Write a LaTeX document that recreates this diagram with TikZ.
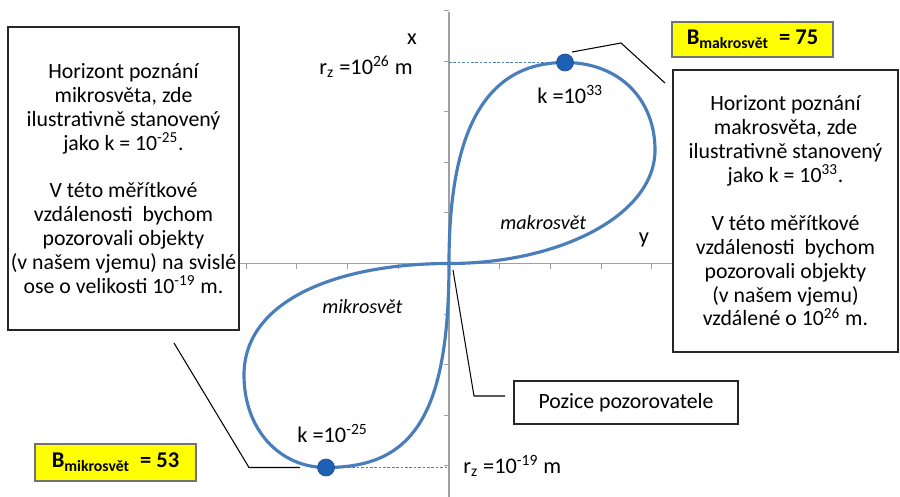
\documentclass[tikz,border=0pt]{standalone}
\usepackage{fontspec}
\setmainfont{Carlito}
\definecolor{curveblue}{RGB}{74,126,187}
\definecolor{dotblue}{RGB}{30,96,182}
\definecolor{dotedge}{RGB}{40,78,140}
\definecolor{dashblue}{RGB}{79,129,189}
\definecolor{axisgray}{RGB}{160,160,160}
\definecolor{hlyellow}{RGB}{255,255,0}
\begin{document}
\begin{tikzpicture}[x=0.02cm,y=-0.02cm,
  txtbox/.style={draw=black!85, line width=0.8pt, align=center, inner sep=0pt, font=\fontsize{12.4}{13.6}\selectfont},
  ybox/.style={draw=black!55, fill=hlyellow, line width=0.6pt, inner sep=0pt, font=\bfseries\fontsize{12.8}{14}\selectfont},
  lbl/.style={inner sep=0pt, font=\fontsize{12.7}{14}\selectfont},
  ital/.style={inner sep=0pt, font=\itshape\fontsize{11.5}{13}\selectfont},
  axisline/.style={draw=axisgray, line width=0.6pt},
  callout/.style={draw=black, line width=0.6pt},
  rzline/.style={draw=dashblue, line width=0.5pt, dash pattern=on 1.5pt off 1pt},
  lobe/.style={draw=curveblue, line width=1.8pt},
  dotnode/.style={circle, fill=dotblue, draw=dotedge, line width=0.4pt, minimum size=0.34cm, inner sep=0pt}
]
\useasboundingbox (0,0) rectangle (900,497);

% axes
\coordinate (O) at (449,263.5);
\coordinate (vtop) at (449,12);
\coordinate (vbot) at (449,497);
\coordinate (hleft) at (239,263.5);
\coordinate (hright) at (673,263.5);
\draw[axisline] (vtop) -- (vbot);
\draw[axisline] (hleft) -- (hright);
\foreach \k in {-5,...,-1,1,2,3,4}
  \draw[axisline] (444,263.5+50.6*\k) -- (449,263.5+50.6*\k);
\foreach \k in {-4,...,-1,1,2,3,4}
  \draw[axisline] (449+50.7*\k,263.5) -- (449+50.7*\k,268.5);

% dashed r_z guides
\coordinate (rzt) at (449,62.5);
\coordinate (rzb) at (449,467.5);
\coordinate (ptop) at (565,62.5);
\coordinate (pbot) at (326,467.5);
\draw[rzline] (rzt) -- (ptop);
\draw[rzline] (pbot) -- (rzb);

% lobes
\draw[lobe] (O) .. controls (449,140) and (480,62.5) .. (ptop)
  .. controls (620,62.5) and (655,100) .. (655,150)
  .. controls (655,215) and (560,263.5) .. (O);
\draw[lobe] (O) .. controls (338,263.5) and (244,300) .. (244,375)
  .. controls (244,430) and (280,467.5) .. (pbot)
  .. controls (410,467.5) and (449,420) .. (O);

% dots
\node[dotnode] (dtop) at (ptop) {};
\node[dotnode] (dbot) at (pbot) {};

% text boxes
\node[txtbox, minimum width=4.62cm, minimum height=6.06cm] (lbox) at (123.5,178.5)
 {Horizont poznání\\mikrosvěta, zde\\ilustrativně stanovený\\jako k = 10\textsuperscript{-25}.\\[13.6pt]
  V této měřítkové\\vzdálenosti~ bychom\\pozorovali objekty\\(v našem vjemu) na svislé\\ose o velikosti 10\textsuperscript{-19} m.};
\node[txtbox, minimum width=4.5cm, minimum height=5.64cm] (rbox) at (785.5,211)
 {Horizont poznání\\makrosvěta, zde\\ilustrativně stanovený\\jako k = 10\textsuperscript{33}.\\[13.6pt]
  V této měřítkové\\vzdálenosti~ bychom\\pozorovali objekty\\(v našem vjemu)\\vzdálené o 10\textsuperscript{26} m.};
\node[txtbox, minimum width=4.48cm, minimum height=0.86cm] (pbox) at (626,402.5) {Pozice pozorovatele};

% yellow boxes
\node[ybox, minimum width=3.22cm, minimum height=0.70cm] (bmak) at (752.5,39.5)
 {B\textsubscript{makrosvět}~~= 75};
\node[ybox, minimum width=3.22cm, minimum height=0.74cm] (bmik) at (115.5,462.5)
 {B\textsubscript{mikrosvět}~~= 53};

% callouts
\coordinate (ca1) at (572,52);
\coordinate (ca2) at (621,43);
\coordinate (ca3) at (665,83);
\draw[callout] (ca1) -- (ca2) -- (ca3);
\coordinate (cb1) at (174,343);
\coordinate (cb2) at (249,467.5);
\coordinate (cb3) at (300,467.5);
\draw[callout] (cb1) -- (cb2) -- (cb3);
\coordinate (cc1) at (453,270);
\coordinate (cc2) at (474,396);
\coordinate (cc3) at (505,396);
\draw[callout] (cc1) -- (cc2) -- (cc3);

% labels
\node[lbl, anchor=base] (xl) at (412,45) {x};
\node[lbl, anchor=base] (yl) at (644,243) {y};
\node[lbl, anchor=base east] (rzt-l) at (413,74) {r\textsubscript{z} =10\textsuperscript{26} m};
\node[lbl, anchor=base west] (rzb-l) at (463,473) {r\textsubscript{z} =10\textsuperscript{-19} m};
\node[lbl, anchor=base west] (kt) at (537,103) {k =10\textsuperscript{33}};
\node[lbl, anchor=base west] (kb) at (297,442) {k =10\textsuperscript{-25}};
\node[ital, anchor=base west] (mak) at (500,229) {makrosvět};
\node[ital, anchor=base west] (mik) at (322,313) {mikrosvět};
\end{tikzpicture}
\end{document}
